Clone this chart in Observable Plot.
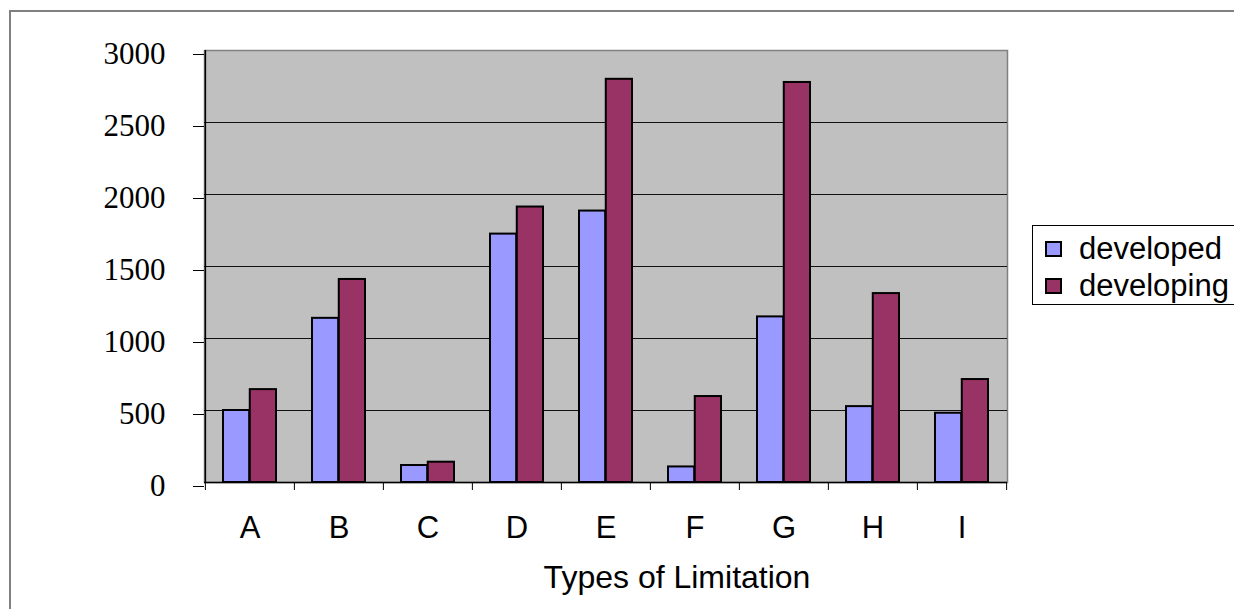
<!DOCTYPE html>
<html>
<head>
<meta charset="utf-8">
<script src="https://cdn.jsdelivr.net/npm/d3@7"></script>
<script src="https://cdn.jsdelivr.net/npm/@observablehq/plot@0.6"></script>
<style>
  html, body { margin: 0; padding: 0; background: #fff; overflow: hidden; }
  #wrap { position: relative; width: 1234px; height: 609px; }
  #border { position: absolute; left: 9px; top: 10px; width: 1300px; height: 700px;
            border-left: 2px solid #808080; border-top: 2px solid #808080; box-sizing: border-box; }
  #chart { position: absolute; left: 0; top: 0; }
  #legend { position: absolute; left: 1032px; top: 225px; width: 230px; height: 80px;
            border: 1px solid #000; background: #fff; box-sizing: border-box;
            font-family: "Liberation Sans", Arial, sans-serif; font-size: 31px; color: #000; }
  .item { position: absolute; left: 12px; height: 37px; display: flex; align-items: center; }
  .sw { width: 17px; height: 16px; border: 2px solid #000; box-sizing: border-box; margin-right: 17px; }
</style>
</head>
<body>
<div id="wrap">
  <div id="border"></div>
  <div id="chart"></div>
  <div id="legend"></div>
</div>
<script>
const categories = ["A", "B", "C", "D", "E", "F", "G", "H", "I"];
const developed = [500, 1140, 118, 1725, 1885, 108, 1150, 527, 481];
const developing = [645, 1410, 141, 1913, 2800, 597, 2778, 1312, 715];
const seriesNames = ["developed", "developing"];
const seriesColors = ["#9999ff", "#993366"];
const yTicks = [0, 500, 1000, 1500, 2000, 2500, 3000];
const xTitle = "Types of Limitation";

const W = 1234, H = 609;
const mL = 204, mR = 227, mT = 50, mB = 127;
const padInner = 0.4, padOuter = 0.2;
const step = (W - mL - mR) / categories.length;
const half = step * (1 - padInner) / 2;

const rowsDeveloped = categories.map((c, i) => ({category: c, value: developed[i]}));
const rowsDeveloping = categories.map((c, i) => ({category: c, value: developing[i]}));

const sans = "'Liberation Sans', Arial, sans-serif";
const serif = "'Liberation Serif', 'Times New Roman', serif";

const chart = Plot.plot({
  width: W, height: H,
  marginLeft: mL, marginRight: mR, marginTop: mT, marginBottom: mB,
  style: {background: "transparent", overflow: "visible"},
  x: {type: "band", domain: categories, paddingInner: padInner, paddingOuter: padOuter, axis: null},
  y: {domain: [0, 3000], axis: null},
  marks: [
    Plot.frame({fill: "#c0c0c0", stroke: "#808080", strokeWidth: 1.5}),
    Plot.ruleY(yTicks.filter(v => v > 0 && v < 3000), {stroke: "#111", strokeWidth: 1.2}),
    Plot.barY(rowsDeveloped, {x: "category", y: "value", fill: seriesColors[0], stroke: "#000", strokeWidth: 2, insetRight: half}),
    Plot.barY(rowsDeveloping, {x: "category", y: "value", fill: seriesColors[1], stroke: "#000", strokeWidth: 2, insetLeft: half}),
    Plot.ruleY([0], {stroke: "#000", strokeWidth: 1.5}),
    Plot.ruleX([categories[0]], {x: d => d, dx: -step / 2, y1: 0, y2: 3000, stroke: "#000", strokeWidth: 1.5}),
    Plot.axisY(yTicks, {anchor: "left", tickSize: 11, tickPadding: 28, fontSize: 31, fontFamily: serif,
      tickFormat: d => String(d), label: null, dy: 4, color: "#000", stroke: "#000"}),
    Plot.axisX(categories, {anchor: "bottom", tickSize: 8, tickFormat: () => "", dx: -step / 2, label: null, stroke: "#000"}),
    Plot.axisX([categories[categories.length - 1]], {anchor: "bottom", tickSize: 8, tickFormat: () => "", dx: step / 2, label: null, stroke: "#000"}),
    Plot.axisX(categories, {anchor: "bottom", tickSize: 0, tickPadding: 33, fontSize: 31, fontFamily: sans,
      label: null, color: "#000"}),
    Plot.text([xTitle], {text: d => d, frameAnchor: "bottom", lineAnchor: "middle", dx: 71, dy: 95,
      fontSize: 32, fontFamily: sans, fill: "#000"})
  ]
});
document.getElementById("chart").appendChild(chart);

const legend = document.getElementById("legend");
seriesNames.forEach((name, i) => {
  const item = document.createElement("div");
  item.className = "item";
  item.style.top = (4 + i * 37) + "px";
  const sw = document.createElement("div");
  sw.className = "sw";
  sw.style.background = seriesColors[i];
  const t = document.createElement("span");
  t.textContent = name;
  item.appendChild(sw);
  item.appendChild(t);
  legend.appendChild(item);
});
</script>
</body>
</html>
